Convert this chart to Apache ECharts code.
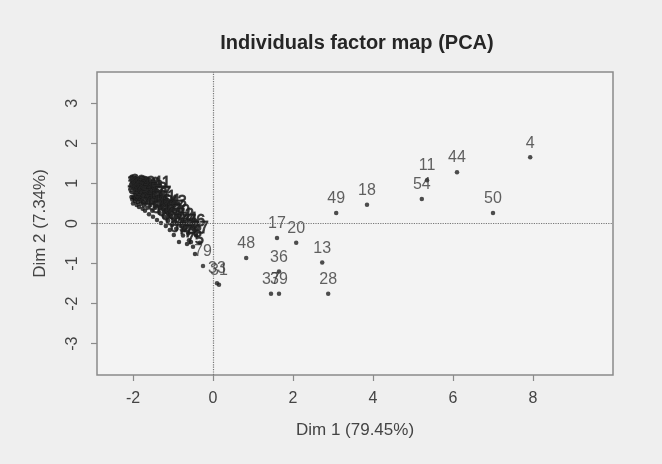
<!DOCTYPE html>
<html>
<head>
<meta charset="utf-8">
<script src="https://cdn.jsdelivr.net/npm/echarts@6/dist/echarts.min.js"></script>
<style>html,body{margin:0;padding:0;background:#efefef;}#c{width:662px;height:464px;}</style>
</head>
<body>
<div id="c"></div>
<script>
// Individual labels and coordinates (Dim 1, Dim 2)
const labels = [
  "4","44","11","54","50","18","49","17","20","13","28","36","37","39","48","31","33","79","43",
  "1","2","3","5","6","7","8","9","10","12","14","15","16","19","21","22","23","24","25","26","27","29",
  "30","32","34","35","38","40","41","42","45","46","47","51","53","55","56","57",
  "58","60","61","62","63","64","65","66","67","68","69","70",
  "52","59","71","72","73","74","75","76","77","78"
];
const dim1 = [
  7.93,6.10,5.35,5.22,7.00,3.85,3.08,1.60,2.08,2.73,2.88,1.65,1.45,1.65,0.83,0.15,0.10,-0.25,-0.88,
  -2.04,-2.02,-2.00,-1.98,-1.96,-1.95,-1.93,-1.91,-1.90,-1.88,-1.86,-1.85,-1.83,-1.81,-1.80,-1.78,-1.76,-1.75,-1.73,-1.71,-1.70,-1.68,
  -1.66,-1.64,-1.62,-1.60,-1.57,-1.55,-1.28,-1.52,-1.50,-1.47,-1.44,-1.40,-1.37,-1.34,-1.30,-1.27,
  -1.22,-1.18,-1.15,-1.12,-1.08,-1.05,-1.02,-0.98,-0.95,-0.92,-0.85,-0.80,
  -0.60,-0.55,-0.75,-0.70,-0.65,-0.62,-0.45,-0.42,-0.33,-0.50
];
const dim2 = [
  1.65,1.28,1.08,0.61,0.26,0.47,0.26,-0.36,-0.48,-0.97,-1.75,-1.20,-1.75,-1.75,-0.86,-1.53,-1.49,-1.06,0.16,
  0.66,0.60,0.50,0.64,0.68,0.56,0.62,0.46,0.66,0.53,0.61,0.41,0.65,0.49,0.58,0.62,0.37,0.53,0.45,0.60,0.32,0.50,
  0.64,0.39,0.56,0.23,0.46,0.62,0.64,0.32,0.17,0.53,0.39,0.09,0.48,0.27,0.01,0.38,
  0.17,-0.06,0.28,0.07,-0.16,0.19,-0.03,-0.29,0.04,-0.13,-0.46,-0.06,
  -0.42,-0.46,-0.30,-0.15,-0.51,-0.25,-0.76,-0.30,-0.48,-0.58
];
const xTicks = [-2, 0, 2, 4, 6, 8];
const yTicks = [-3, -2, -1, 0, 1, 2, 3];

const font = '"Liberation Sans", Arial, Helvetica, sans-serif';
const pts = labels.map((n, i) => {
  const item = { name: n, value: [dim1[i], dim2[i]] };
  if (dim1[i] < -0.3 && dim2[i] > -0.9) {
    // labels inside the dense cluster pile up into a dark blob
    item.label = { color: '#1a1a1a', textBorderColor: '#2a2a2a', textBorderWidth: 1 };
    item.itemStyle = { color: '#111' };
  }
  return item;
});

const chart = echarts.init(document.getElementById('c'));
chart.setOption({
  backgroundColor: '#efefef',
  animation: false,
  title: {
    text: 'Individuals factor map (PCA)',
    left: 352, top: 28, textAlign: 'center',
    textStyle: { fontFamily: font, fontSize: 20, fontWeight: 'bold', color: '#262626' }
  },
  grid: {
    left: 97, right: 49, top: 72, bottom: 89,
    show: true, borderColor: '#8a8a8a', borderWidth: 1.5, backgroundColor: '#f3f3f3'
  },
  xAxis: {
    type: 'value', min: -2.9, max: 10,
    name: 'Dim 1 (79.45%)', nameLocation: 'middle', nameGap: 47,
    nameTextStyle: { fontFamily: font, fontSize: 17, color: '#444' },
    axisLine: { show: false, onZero: false },
    splitLine: { show: false },
    axisTick: { show: true, length: 6, customValues: xTicks, lineStyle: { color: '#8a8a8a', width: 1.2 } },
    axisLabel: { customValues: xTicks, margin: 16, fontFamily: font, fontSize: 16, color: '#444' }
  },
  yAxis: {
    type: 'value', min: -3.78, max: 3.78,
    name: 'Dim 2 (7.34%)', nameLocation: 'middle', nameGap: 48,
    nameTextStyle: { fontFamily: font, fontSize: 17, color: '#444' },
    axisLine: { show: false, onZero: false },
    splitLine: { show: false },
    axisTick: { show: true, length: 6, customValues: yTicks, lineStyle: { color: '#8a8a8a', width: 1.2 } },
    axisLabel: { customValues: yTicks, rotate: 90, margin: 16, fontFamily: font, fontSize: 16, color: '#444' }
  },
  series: [{
    type: 'scatter',
    data: pts,
    symbol: 'circle',
    symbolSize: 4.5,
    itemStyle: { color: '#222' },
    label: {
      show: true, position: 'top', distance: 4,
      formatter: p => p.name,
      fontFamily: font, fontSize: 16, color: '#3a3a3a'
    },
    labelLayout: { hideOverlap: false },
    markLine: {
      silent: true, symbol: 'none', label: { show: false },
      lineStyle: { type: 'dotted', color: '#777', width: 1.2 },
      data: [{ xAxis: 0 }, { yAxis: 0 }]
    }
  }]
});
</script>
</body>
</html>
